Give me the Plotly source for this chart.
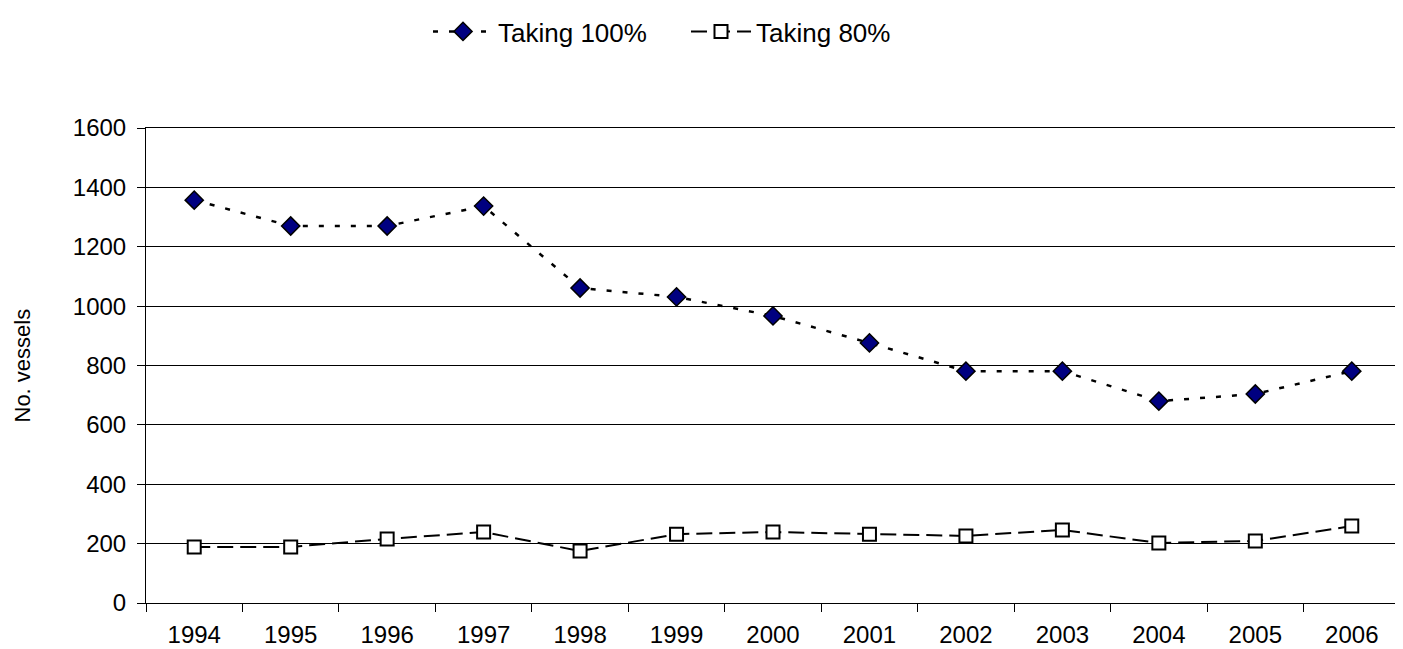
import plotly.graph_objects as go

years = ["1994", "1995", "1996", "1997", "1998", "1999", "2000",
         "2001", "2002", "2003", "2004", "2005", "2006"]
taking_100 = [1357, 1270, 1270, 1337, 1061, 1031, 967, 876, 781, 781, 680, 704, 781]
taking_80 = [189, 189, 216, 239, 175, 232, 239, 232, 226, 246, 202, 209, 259]
y_ticks = [0, 200, 400, 600, 800, 1000, 1200, 1400, 1600]

FONT = "Liberation Sans, Arial, sans-serif"

fig = go.Figure()
fig.add_trace(go.Scatter(
    x=years, y=taking_100, name="Taking 100%", mode="lines+markers",
    line=dict(color="black", width=2.5, dash="5px,11px"),
    marker=dict(symbol="diamond", size=14, color="#000080",
                line=dict(color="black", width=1.5)),
))
fig.add_trace(go.Scatter(
    x=years, y=taking_80, name="Taking 80%", mode="lines+markers",
    line=dict(color="black", width=2, dash="16px,7px"),
    marker=dict(symbol="square", size=13, color="white",
                line=dict(color="black", width=2)),
))

fig.update_layout(
    width=1395, height=641,
    paper_bgcolor="white", plot_bgcolor="white",
    margin=dict(l=138, r=3, t=120, b=46),
    font=dict(family=FONT, size=24, color="black"),
    showlegend=True,
    legend=dict(orientation="h", x=(428 - 8) / 1395, xanchor="left",
                y=1.0, yanchor="top", yref="container", xref="container",
                font=dict(family=FONT, size=26, color="black"),
                entrywidth=183, itemwidth=60),
    xaxis=dict(type="category", range=[-0.5, 12.5], tickson="boundaries",
               ticks="outside", ticklen=8, tickcolor="black", showline=True,
               linecolor="black", linewidth=1, mirror=True, showgrid=False,
               automargin=False, ticklabelstandoff=10,
               tickfont=dict(family=FONT, size=24, color="black")),
    yaxis=dict(range=[0, 1600], tickvals=y_ticks, ticks="outside", ticklen=8,
               tickcolor="black", showline=True, linecolor="black",
               linewidth=1, mirror=True, showgrid=True, gridcolor="black",
               gridwidth=1, zeroline=False, automargin=False,
               ticklabelstandoff=6,
               tickfont=dict(family=FONT, size=24, color="black")),
    annotations=[dict(text="No. vessels", textangle=-90, showarrow=False,
                      xref="paper", yref="paper",
                      x=(22 - 146) / 1254, y=0.5,
                      xanchor="center", yanchor="middle",
                      font=dict(family=FONT, size=22, color="black"))],
)

fig.write_html("out.html")
